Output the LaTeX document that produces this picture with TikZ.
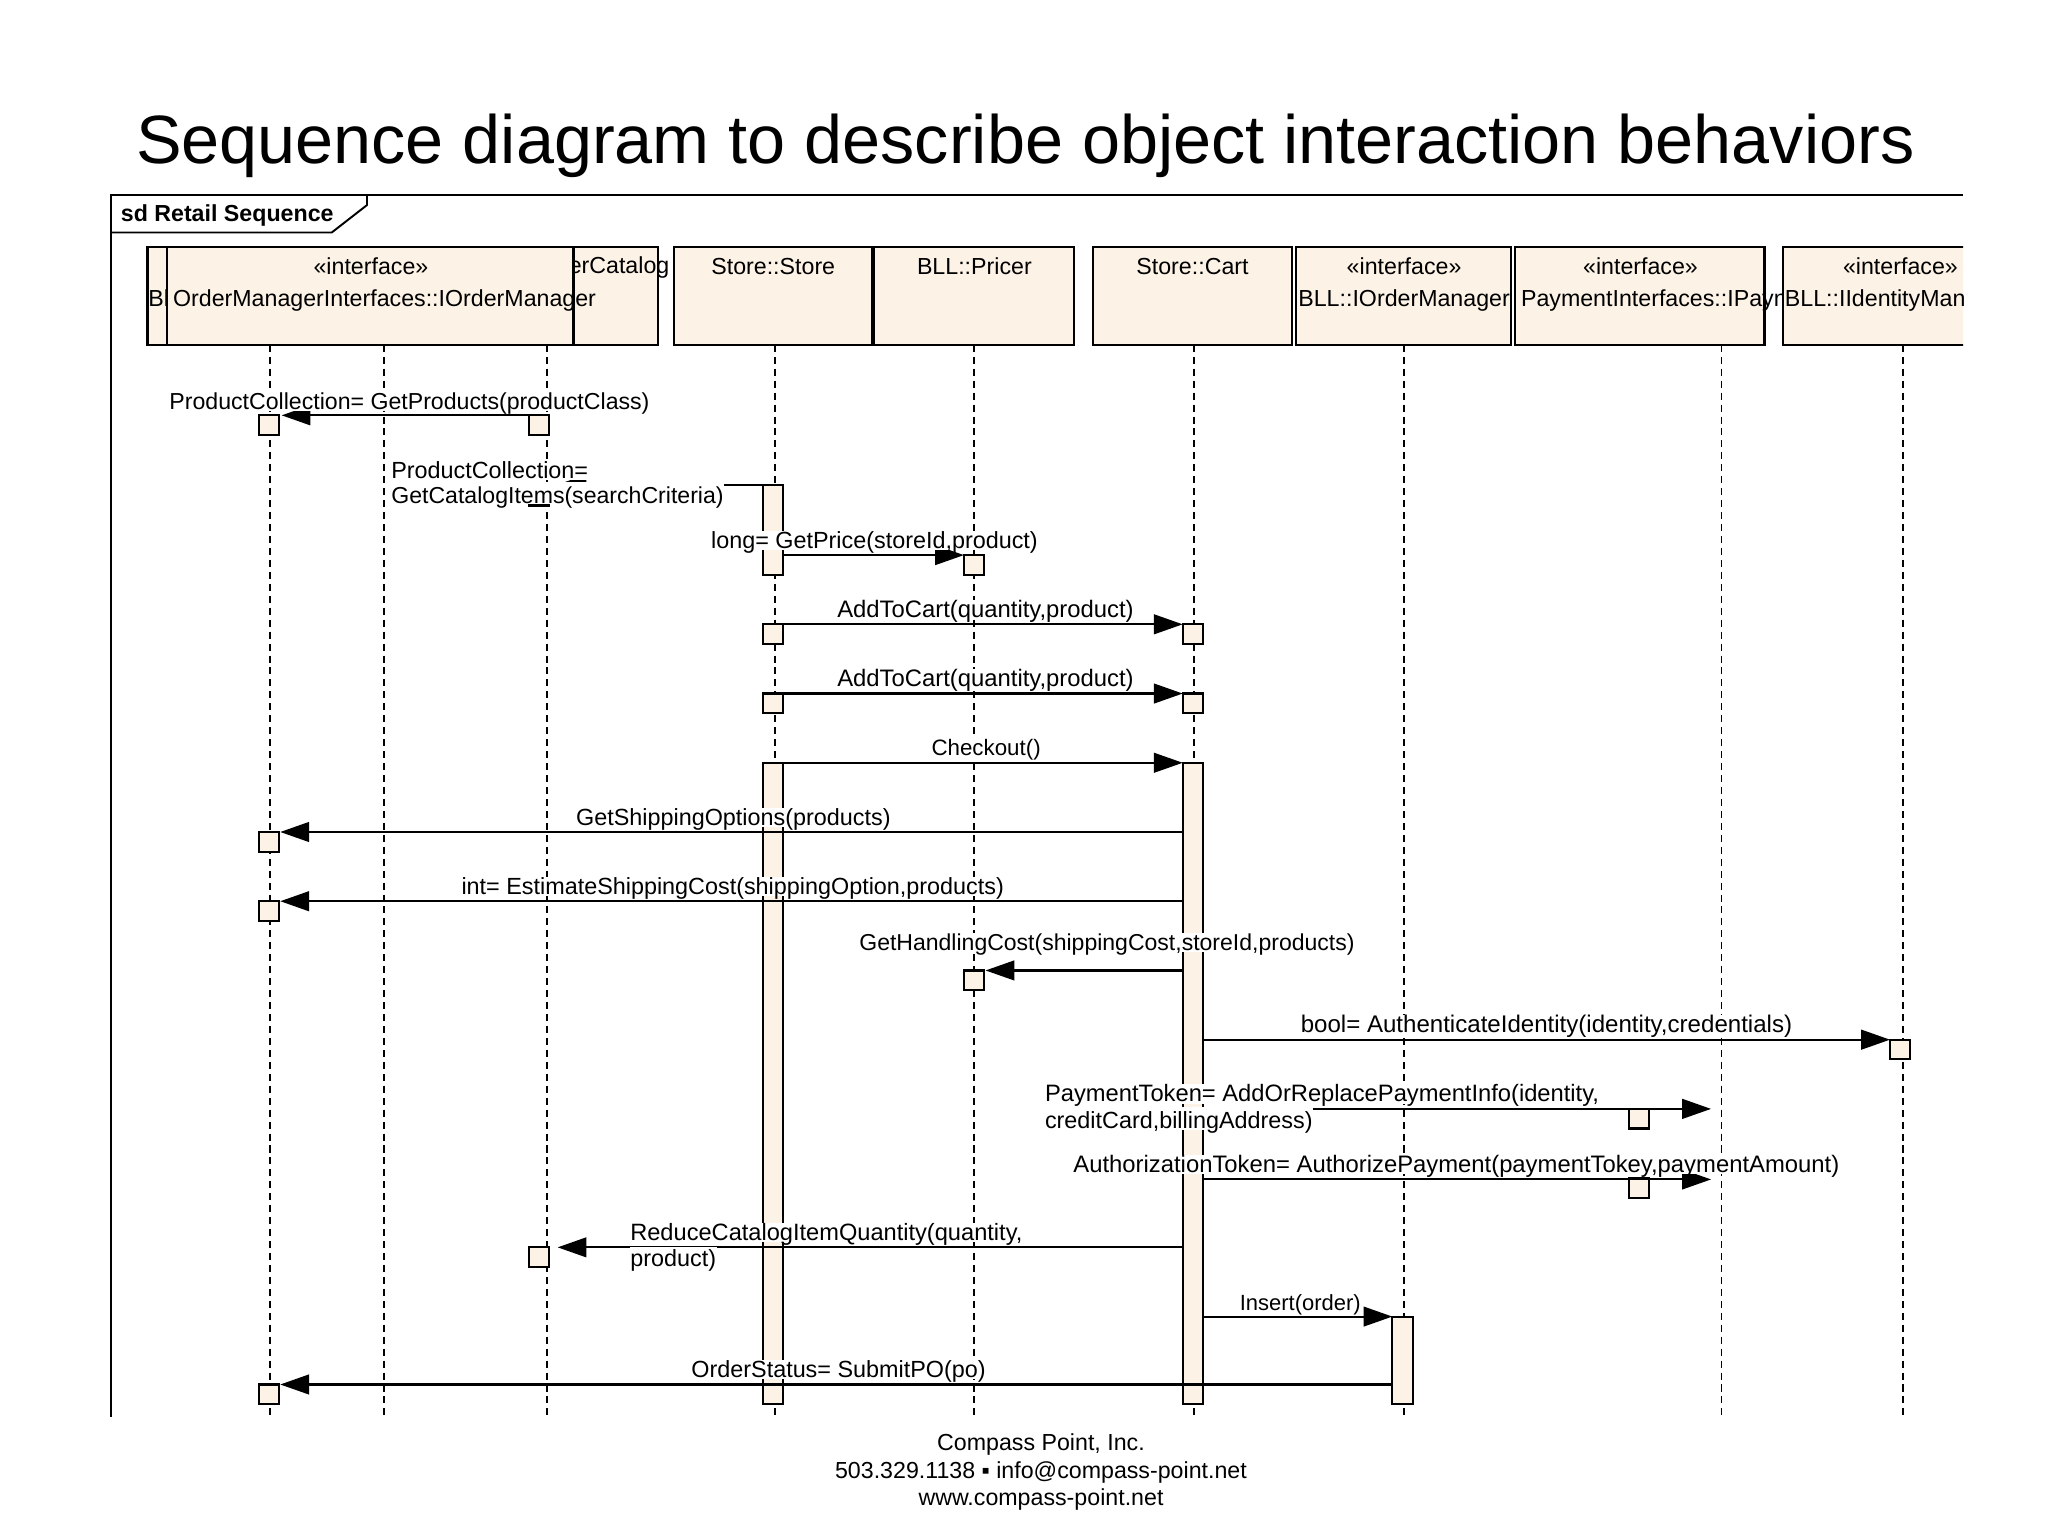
\documentclass[tikz,border=0pt]{standalone}
\usepackage{fontspec}
\setmainfont{Liberation Sans}
\usetikzlibrary{arrows.meta}
\definecolor{boxfill}{HTML}{FCF2E6}
\newcommand{\unitlen}{0.37162pt}
\tikzset{
  lifebox/.style={draw, fill=boxfill, line width=0.65pt, inner sep=0pt, outer sep=0pt, minimum height=75*\unitlen},
  boxtext/.style={inner sep=0pt, font=\fontsize{6.6}{8}\selectfont},
  msgtext/.style={fill=white, inner xsep=0.2pt, inner ysep=0pt, text height=5pt, text depth=0.5pt, yshift=0.5pt, font=\fontsize{6.65}{8}\selectfont},
  msgsize/.style={font=\fontsize{#1}{8}\selectfont},
  foottext/.style={inner sep=0pt, font=\fontsize{6.6}{8}\selectfont},
  lifeline/.style={line width=0.55pt, dash pattern=on 2pt off 1.4pt},
  act/.style={draw, fill=boxfill, line width=0.6pt, inner sep=0pt, outer sep=0pt, anchor=north west, minimum width=15.5*\unitlen, minimum height=15*\unitlen},
  msg/.style={line width=0.6pt, -{Triangle[length=8.2pt, width=5.6pt]}}
}
\begin{document}
\begin{tikzpicture}[x=\unitlen, y=-\unitlen]
  \useasboundingbox (0,0) rectangle (1568,1176);
  \node [inner sep=0pt, font=\fontsize{19.45}{23}\selectfont] (Title_text) at (785,111.5) {Sequence diagram to describe object interaction behaviors};

  % frame
  \coordinate (Frame_start) at (85,1085);
  \coordinate (Frame_corner) at (85,149);
  \coordinate (Frame_end) at (1503,149);
  \draw [line width=0.55pt] (Frame_start) -- (Frame_corner) -- (Frame_end);
  \coordinate (Tab_a) at (85,178);
  \coordinate (Tab_b) at (254,178);
  \coordinate (Tab_c) at (281,157);
  \coordinate (Tab_d) at (281,149);
  \draw [line width=0.55pt] (Tab_a) -- (Tab_b) -- (Tab_c) -- (Tab_d);
  \node [inner sep=0pt, anchor=west, font=\bfseries\fontsize{6.6}{8}\selectfont] (Sd_text) at (92,165) {sd Retail Sequence};

  % lifelines
  \foreach \x [count=\i] in {207,294,419,593,746,914,1075,1318,1457} {
    \coordinate (Line_top_\i) at (\x,264);
    \coordinate (Line_end_\i) at (\x,1085);
    \draw [lifeline] (Line_top_\i) -- (Line_end_\i);
  }

  % header boxes
  \node [lifebox, minimum width=391*\unitlen] (Catalog_box) at (308.5,226.5) {};
  \node [boxtext, anchor=west] (Bl_text) at (113,228) {Bl};
  \node [boxtext, anchor=east] (Catalog_text) at (513,205) {erCatalog};
  \node [lifebox, minimum width=311*\unitlen] (Order_box) at (283.5,226.5) {};
  \node [boxtext] (Order_stereo) at (284,204) {«interface»};
  \node [boxtext, anchor=west] (Order_text) at (132,230) {OrderManagerInterfaces::IOrderManager};
  \node [lifebox, minimum width=152*\unitlen] (Store_box) at (592,226.5) {};
  \node [boxtext] (Store_text) at (592,204) {Store::Store};
  \node [lifebox, minimum width=153*\unitlen] (Pricer_box) at (745.5,226.5) {};
  \node [boxtext] (Pricer_text) at (746,204) {BLL::Pricer};
  \node [lifebox, minimum width=152*\unitlen] (Cart_box) at (913,226.5) {};
  \node [boxtext] (Cart_text) at (913,204) {Store::Cart};
  \node [lifebox, minimum width=165*\unitlen] (Manager_box) at (1074.5,226.5) {};
  \node [boxtext] (Manager_stereo) at (1075,204) {«interface»};
  \node [boxtext] (Manager_text) at (1075,230) {BLL::IOrderManager};
  \node [lifebox, minimum width=191*\unitlen] (Payment_box) at (1255.5,226.5) {};
  \node [boxtext] (Payment_stereo) at (1256,204) {«interface»};
  \node [boxtext, anchor=west] (Payment_text) at (1164,230) {PaymentInterfaces::IPayn};
  \begin{scope}
    \clip (1360,180) rectangle (1503,270);
    \node [lifebox, minimum width=200*\unitlen, anchor=west] (Identity_box) at (1365,226.5) {};
    \node [boxtext] (Identity_stereo) at (1455,204) {«interface»};
    \node [boxtext, anchor=west] (Identity_text) at (1366,230) {BLL::IIdentityMan};
  \end{scope}

  % activations
  \node [act] (Products_to) at (198,318) {};
  \node [act] (Products_from) at (405,318) {};
  \node [act, minimum height=16*\unitlen] (Items_to) at (405,371) {};
  \node [act, minimum height=69*\unitlen] (Items_bar) at (584,371) {};
  \node [act] (Price_to) at (738,425) {};
  \node [act] (Add_one_from) at (584,478) {};
  \node [act] (Add_one_to) at (905.5,478) {};
  \node [act] (Add_two_from) at (584,531) {};
  \node [act] (Add_two_to) at (905.5,531) {};
  \node [act, minimum height=491*\unitlen] (Store_bar) at (584,584) {};
  \node [act, minimum height=491*\unitlen] (Cart_bar) at (905.5,584) {};
  \node [act] (Shipping_to) at (198,637) {};
  \node [act] (Estimate_to) at (198,690) {};
  \node [act] (Handling_to) at (738,743) {};
  \node [act] (Identity_to) at (1447,796) {};
  \node [act] (Token_box) at (1247,849) {};
  \node [act] (Auth_box) at (1247,902) {};
  \node [act] (Reduce_to) at (405,955) {};
  \node [act, minimum height=67*\unitlen] (Insert_bar) at (1066,1008) {};
  \node [act] (Submit_to) at (198,1060) {};
  \coordinate (Token_tip) at (1310,849);
  \coordinate (Auth_tip) at (1310,903);

  % messages
  \draw [msg, shorten >=0.8pt] (Products_from.north west) -- (Products_to.north east);
  \draw [msg, shorten >=2.4pt] (Items_bar.north west) -- (Items_to.north east);
  \draw [msg] (Items_bar.east |- Price_to.north) -- (Price_to.north west);
  \draw [msg] (Add_one_from.north east) -- (Add_one_to.north west);
  \draw [msg] (Add_two_from.north east) -- (Add_two_to.north west);
  \draw [msg] (Store_bar.north east) -- (Cart_bar.north west);
  \draw [msg, shorten >=0.4pt] (Cart_bar.west |- Shipping_to.north) -- (Shipping_to.north east);
  \draw [msg, shorten >=0.4pt] (Cart_bar.west |- Estimate_to.north) -- (Estimate_to.north east);
  \draw [msg, shorten >=0.4pt] (Cart_bar.west |- Handling_to.north) -- (Handling_to.north east);
  \draw [msg] (Cart_bar.east |- Identity_to.north) -- (Identity_to.north west);
  \draw [msg] (Cart_bar.east |- Token_tip) -- (Token_tip);
  \draw [msg] (Cart_bar.east |- Auth_tip) -- (Auth_tip);
  \draw [msg, shorten >=2.4pt] (Cart_bar.west |- Reduce_to.north) -- (Reduce_to.north east);
  \draw [msg] (Cart_bar.east |- Insert_bar.north) -- (Insert_bar.north west);
  \draw [msg, shorten >=0.4pt] (Insert_bar.west |- Submit_to.north) -- (Submit_to.north east);

  % message labels
  \node [msgtext, msgsize=6.58] (Products_text) at (313.5,309) {ProductCollection= GetProducts(productClass)};
  \node [msgtext, yshift=-0.5pt, anchor=base west, text depth=0.4pt] (Items_text_a) at (298.5,366.7) {ProductCollection=};
  \node [msgtext, yshift=-0.5pt, msgsize=6.57, anchor=base west, text height=6pt, text depth=0pt] (Items_text_b) at (298.5,385.5) {GetCatalogItems(searchCriteria)};
  \node [msgtext] (Price_text) at (669.5,415) {long= GetPrice(storeId,product)};
  \node [msgtext, msgsize=6.78] (Add_one_text) at (754.5,468) {AddToCart(quantity,product)};
  \node [msgtext, msgsize=6.78] (Add_two_text) at (754.5,521) {AddToCart(quantity,product)};
  \node [msgtext, msgsize=6.35] (Checkout_text) at (755,574) {Checkout()};
  \node [msgtext] (Shipping_text) at (561.5,627) {GetShippingOptions(products)};
  \node [msgtext] (Estimate_text) at (561,680) {int= EstimateShippingCost(shippingOption,products)};
  \node [msgtext, msgsize=6.55] (Handling_text) at (847.5,723) {GetHandlingCost(shippingCost,storeId,products)};
  \node [msgtext, msgsize=6.85] (Identity_text_msg) at (1184,786) {bool= AuthenticateIdentity(identity,credentials)};
  \node [msgtext, msgsize=6.75, anchor=west] (Token_text_a) at (799,839) {PaymentToken= AddOrReplacePaymentInfo(identity,};
  \node [msgtext, yshift=-0.5pt, anchor=base west, text height=6pt] (Token_text_b) at (799,863.7) {creditCard,billingAddress)};
  \node [msgtext, msgsize=6.78] (Auth_text) at (1115,893) {AuthorizationToken= AuthorizePayment(paymentTokey,paymentAmount)};
  \node [msgtext, msgsize=6.72, anchor=west] (Reduce_text_a) at (481.5,945) {ReduceCatalogItemQuantity(quantity,};
  \node [msgtext, yshift=-0.5pt, anchor=base west, text height=5.6pt] (Reduce_text_b) at (481.5,969.7) {product)};
  \node [msgtext, msgsize=6.25] (Insert_text) at (995.5,999) {Insert(order)};
  \node [msgtext] (Submit_text) at (642,1050) {OrderStatus= SubmitPO(po)};

  % footer
  \node [foottext] (Foot_a) at (797,1106) {Compass Point, Inc.};
  \node [foottext] (Foot_b) at (797,1127) {503.329.1138 ▪ info@compass-point.net};
  \node [foottext] (Foot_c) at (797,1148) {www.compass-point.net};
\end{tikzpicture}
\end{document}
